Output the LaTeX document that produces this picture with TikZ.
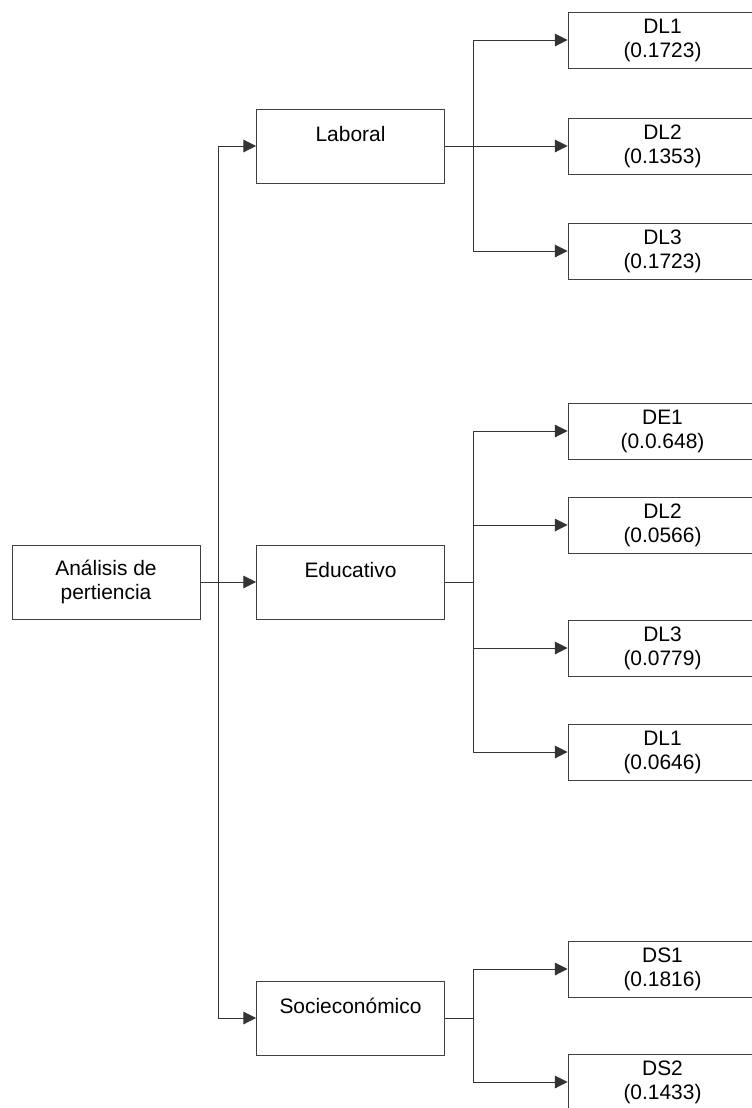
\documentclass[tikz,border=0pt]{standalone}
\usepackage{fontspec}
\setmainfont{Liberation Sans}
\usetikzlibrary{arrows.meta}

\tikzset{
    box/.style={draw=black!75, line width=0.7pt, align=center, inner sep=0pt,
        font=\fontsize{15.7}{18}\selectfont},
    mainbox/.style={box, minimum width=188*0.75pt, minimum height=74*0.75pt},
    leafbox/.style={box, minimum width=189*0.75pt, minimum height=56*0.75pt},
    link/.style={draw=black!80, line width=0.7pt},
    arr/.style={link, -{Triangle[length=9.5pt,width=9.5pt]}}
}

\begin{document}
\begin{tikzpicture}[x=0.75pt, y=-0.75pt]
    \clip (0,0) rectangle (752,1108);

    % Root node
    \node[mainbox] (root) at (106,582) {Análisis de\\pertiencia};

    % Second level
    \node[mainbox] (lab) at (350.5,146) {Laboral\\\mbox{}};
    \node[mainbox] (edu) at (350.5,582) {Educativo\\\mbox{}};
    \node[mainbox] (soc) at (350.5,1018) {Socieconómico\\\mbox{}};

    % 1) Laboral leaves
    \node[leafbox] (l1) at (662.5,40) {DL1\\(0.1723)};
    \node[leafbox] (l2) at (662.5,146) {DL2\\(0.1353)};
    \node[leafbox] (l3) at (662.5,251) {DL3\\(0.1723)};
    % 2) Educativo leaves
    \node[leafbox] (e1) at (662.5,431) {DE1\\(0.0.648)};
    \node[leafbox] (e2) at (662.5,525) {DL2\\(0.0566)};
    \node[leafbox] (e3) at (662.5,648) {DL3\\(0.0779)};
    \node[leafbox] (e4) at (662.5,752) {DL1\\(0.0646)};
    % 3) Socieconómico leaves
    \node[leafbox] (s1) at (662.5,969) {DS1\\(0.1816)};
    \node[leafbox] (s2) at (662.5,1082) {DS2\\(0.1433)};

    % Connection points
    \coordinate (trunk) at (218,582);
    \coordinate (jlab) at (473,146);
    \coordinate (jedu) at (473,582);
    \coordinate (jsoc) at (473,1018);

    % Root to second level
    \draw[link] (root.east) -- (trunk);
    \foreach \n in {lab,edu,soc}
        \draw[arr] (trunk) |- (\n.west);

    % Second level to leaves
    \draw[link] (lab.east) -- (jlab);
    \foreach \n in {l1,l2,l3}
        \draw[arr] (jlab) |- (\n.west);

    \draw[link] (edu.east) -- (jedu);
    \foreach \n in {e1,e2,e3,e4}
        \draw[arr] (jedu) |- (\n.west);

    \draw[link] (soc.east) -- (jsoc);
    \foreach \n in {s1,s2}
        \draw[arr] (jsoc) |- (\n.west);
\end{tikzpicture}
\end{document}
